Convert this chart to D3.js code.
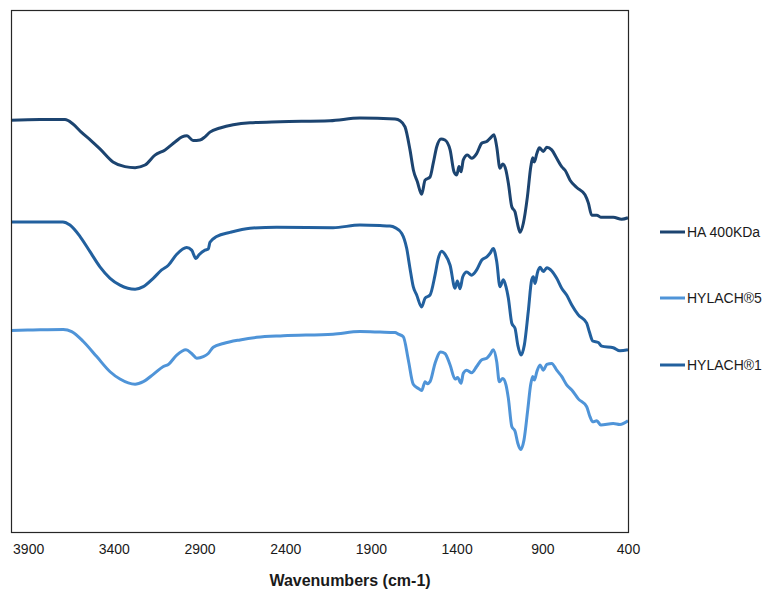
<!DOCTYPE html>
<html>
<head>
<meta charset="utf-8">
<script src="https://cdn.jsdelivr.net/npm/d3@7"></script>
<style>
  body { margin: 0; background: #fff; }
  svg { display: block; font-family: "Liberation Sans", Arial, sans-serif; }
</style>
</head>
<body>
<script>
// FTIR spectra, wavenumber (cm-1) and transmittance-like values (a.u.)
var seriesNames = ["HA 400KDa", "HYLACH\u00AE5", "HYLACH\u00AE1"];
var seriesColors = ["#1c4470", "#4f94d8", "#22609e"];
var xTicks = [3900, 3400, 2900, 2400, 1900, 1400, 900, 400];

var haWn = [4000,3831,3685,3640,3590,3530,3481,3405,3335,3276,3218,3160,3101,3043,3002,2973,2938,2897,2868,2839,2780,2605,2430,2139,1964,1759,1730,1701,1672,1652,1629,1604,1584,1555,1536,1516,1491,1468,1438,1415,1399,1386,1374,1361,1337,1312,1283,1253,1224,1205,1182,1166,1147,1131,1112,1098,1078,1059,1043,1030,1011,987,967,956,946,932,917,894,874,845,816,787,767,738,699,651,631,612,582,559,486,437,400];
var haT = [78.9,79.0,79.0,78.2,76.6,74.9,73.4,70.9,70.0,69.8,70.3,72.2,73.2,74.7,75.7,75.9,75.0,75.1,75.7,76.6,77.4,78.4,78.6,78.8,79.3,79.1,78.8,77.6,73.2,69.3,67.1,64.7,67.4,68.0,70.7,73.8,75.3,75.1,73.2,69.0,68.4,70.0,69.0,71.3,72.2,71.6,72.5,74.5,74.8,75.4,76.1,73.8,69.7,70.5,69.3,66.8,62.3,61.3,58.8,57.4,59.1,64.2,70.0,71.7,70.9,72.5,73.6,72.9,73.7,73.2,71.6,70.0,69.3,67.4,66.0,64.6,63.0,60.7,60.7,60.3,60.3,59.9,60.2];

var h1Wn = [4000,3831,3697,3656,3597,3539,3481,3422,3364,3276,3228,3170,3121,3082,3033,2975,2946,2921,2903,2868,2849,2839,2800,2722,2605,2450,2121,1964,1847,1789,1759,1720,1691,1672,1653,1633,1604,1584,1555,1526,1507,1487,1468,1438,1409,1396,1380,1364,1341,1312,1283,1253,1224,1205,1186,1166,1147,1127,1112,1098,1078,1059,1043,1024,1005,982,962,952,942,929,913,894,874,845,816,787,758,728,690,641,626,606,573,553,486,447,400];
var h1T = [59.4,59.4,59.4,58.8,56.6,53.7,50.8,48.6,47.3,46.5,47.0,48.6,50.2,51.1,53.2,54.5,54.0,52.4,53.1,54.0,54.2,55.5,56.6,57.4,58.2,58.4,58.3,58.8,58.7,58.6,58.3,57.2,54.3,50.5,47.0,45.4,43.1,44.8,45.4,49.2,52.4,53.8,53.2,51.1,46.7,48.1,46.6,48.9,49.8,49.2,50.2,52.1,52.7,53.4,54.3,51.8,47.0,48.3,47.0,44.8,40.0,39.0,35.8,33.9,35.8,42.2,48.3,48.9,47.6,49.6,50.7,49.9,50.6,50.0,48.6,46.7,45.4,43.5,41.6,40.0,38.4,36.6,36.3,35.6,35.3,34.7,34.9];

var h5Wn = [4000,3872,3695,3646,3578,3500,3422,3364,3276,3228,3170,3111,3082,3033,2979,2946,2916,2878,2849,2820,2761,2664,2566,2411,2121,1964,1847,1759,1740,1711,1682,1653,1623,1604,1584,1571,1555,1526,1493,1468,1438,1409,1394,1374,1361,1341,1312,1283,1253,1224,1205,1186,1166,1151,1131,1112,1098,1078,1059,1043,1026,1007,985,968,956,946,932,913,894,874,845,816,787,758,728,690,641,622,606,582,559,486,447,400];
var h5T = [38.6,38.7,38.8,38.4,36.5,33.6,30.7,29.3,28.3,28.8,30.2,31.7,32.1,33.9,34.9,34.2,33.3,33.6,34.2,35.4,36.1,36.8,37.3,37.6,37.9,38.4,38.3,38.2,37.9,37.4,33.0,28.3,27.5,27.1,28.8,28.4,28.8,32.3,34.5,34.2,32.0,29.3,29.6,28.5,30.4,31.0,30.5,31.7,33.0,33.3,34.0,34.9,32.6,28.8,29.4,28.2,25.6,20.2,19.3,17.0,15.8,17.6,23.4,28.2,29.8,29.1,30.7,32.0,31.0,32.1,32.3,31.0,29.8,28.2,27.2,25.5,24.0,22.1,21.1,21.3,20.5,20.8,20.6,21.3];

var width = 771, height = 591;
var margin = { left: 11, top: 10, right: 143, bottom: 59 };
var plotW = width - margin.left - margin.right,
    plotH = height - margin.top - margin.bottom;

var svg = d3.select("body").append("svg")
    .attr("width", width)
    .attr("height", height);

var x = d3.scaleLinear().domain([4000, 400]).range([0, plotW]);
var y = d3.scaleLinear().domain([0, 100]).range([plotH, 0]);

var g = svg.append("g").attr("transform", "translate(" + margin.left + "," + margin.top + ")");

function zip(wn, t) {
    return wn.map(function (w, i) { return { wn: w, t: t[i] }; });
}
var series = [zip(haWn, haT), zip(h5Wn, h5T), zip(h1Wn, h1T)];

var line = d3.line()
    .x(function (d) { return x(d.wn); })
    .y(function (d) { return y(d.t); })
    .curve(d3.curveMonotoneX);

// draw light one first so darker ones sit on top
[1, 2, 0].forEach(function (i) {
    g.append("path")
        .datum(series[i])
        .attr("fill", "none")
        .attr("stroke", seriesColors[i])
        .attr("stroke-width", 3)
        .attr("stroke-linejoin", "round")
        .attr("d", line);
});

g.append("rect")
    .attr("x", 0.5).attr("y", 0.5)
    .attr("width", plotW).attr("height", plotH)
    .attr("fill", "none")
    .attr("stroke", "#262626")
    .attr("stroke-width", 1.2);

// x axis labels only, no tick marks
var xAxis = d3.axisBottom(x).tickValues(xTicks).tickFormat(d3.format("d")).tickSize(0).tickPadding(12);
var ax = g.append("g").attr("transform", "translate(0," + plotH + ")").call(xAxis);
ax.select(".domain").remove();
ax.selectAll("text").attr("font-size", 14).attr("fill", "#1a1a1a")
    .attr("font-family", "'Liberation Sans', Arial, sans-serif");

svg.append("text")
    .attr("x", 350).attr("y", 586)
    .attr("text-anchor", "middle")
    .attr("font-size", 16).attr("font-weight", "bold")
    .attr("fill", "#1a1a1a")
    .text("Wavenumbers (cm-1)");

// legend
var legendY = [232, 298, 365];
var leg = svg.append("g");
seriesNames.forEach(function (name, i) {
    leg.append("line")
        .attr("x1", 660).attr("x2", 685)
        .attr("y1", legendY[i]).attr("y2", legendY[i])
        .attr("stroke", seriesColors[i]).attr("stroke-width", 3);
    leg.append("text")
        .attr("x", 687).attr("y", legendY[i] + 5)
        .attr("font-size", 14).attr("fill", "#1a1a1a")
        .text(name);
});
</script>
</body>
</html>
